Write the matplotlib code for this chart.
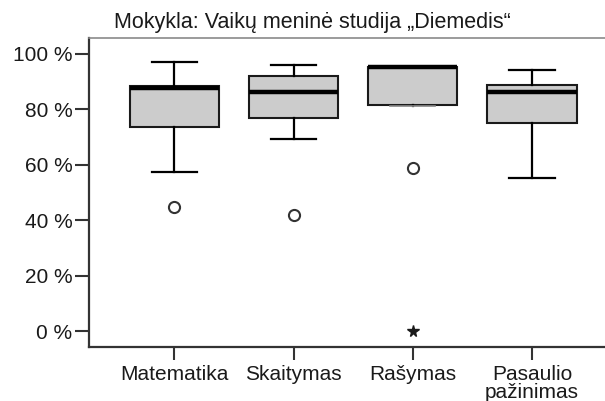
import matplotlib
matplotlib.use("Agg")
import matplotlib.pyplot as plt
from matplotlib.ticker import FuncFormatter

# Subject scores (%) for one school
subjects = ["Matematika", "Skaitymas", "Rašymas", "Pasaulio\npažinimas"]
whisker_low = [57.4, 69.3, 81.3, 55.3]
q1 = [73.6, 76.8, 81.6, 75.0]
medians = [87.6, 86.3, 95.1, 86.1]
q3 = [88.6, 92.1, 95.4, 88.8]
whisker_high = [97.1, 96.0, 95.4, 94.1]
outliers = [[44.9], [42.1], [58.8], []]
extremes = [[], [], [0.0], []]
y_ticks = [0, 20, 40, 60, 80, 100]
title = "Mokykla: Vaikų meninė studija „Diemedis“"

plt.rcParams["font.family"] = ["Liberation Sans", "DejaVu Sans"]
text_color = "#1a1a1a"

fig = plt.figure(figsize=(6.05, 4.01), dpi=100)
# axes runs off the right edge, so no right frame is visible
ax = fig.add_axes([89.3 / 605, 53.7 / 401, 1 - 89.3 / 605, (347.3 - 37.5) / 401])

positions = list(range(1, len(subjects) + 1))
stats = []
for i in range(len(subjects)):
    stats.append({"label": subjects[i], "whislo": whisker_low[i], "q1": q1[i],
                  "med": medians[i], "q3": q3[i], "whishi": whisker_high[i],
                  "fliers": outliers[i]})

parts = ax.bxp(stats, positions=positions, widths=0.75, capwidths=0.38, patch_artist=True,
               boxprops=dict(facecolor="#cccccc", edgecolor="#1a1a1a", linewidth=1.5),
               medianprops=dict(color="black", linewidth=3.2, solid_capstyle="butt"),
               whiskerprops=dict(color="black", linewidth=1.6),
               capprops=dict(color="black", linewidth=1.6),
               flierprops=dict(marker="o", markersize=8, markerfacecolor="none",
                               markeredgecolor="#333333", markeredgewidth=1.5))

# where the lower whisker sits right under the box, the cap shows up faint
for i in range(len(subjects)):
    if q1[i] - whisker_low[i] < 1:
        parts["caps"][2 * i].set_color("#888888")
        parts["caps"][2 * i].set_linewidth(1.2)

# extreme values get a star instead of a circle
for pos, vals in zip(positions, extremes):
    if vals:
        ax.plot([pos] * len(vals), vals, linestyle="none", marker="*",
                markersize=8.5, color="#1a1a1a", clip_on=False)

ax.set_xlim(0.287, 4.613)
ax.set_ylim(-5.7, 105.9)
ax.set_yticks(y_ticks)
ax.yaxis.set_major_formatter(FuncFormatter(lambda v, p: f"{v:.0f} %"))
ax.set_xticks(positions)
ax.set_xticklabels(subjects, linespacing=0.9)

ax.spines["right"].set_visible(False)
ax.spines["top"].set_color("#8a8a8a")
ax.spines["top"].set_linewidth(1.2)
ax.spines["left"].set_color("#333333")
ax.spines["left"].set_linewidth(1.6)
ax.spines["bottom"].set_color("#333333")
ax.spines["bottom"].set_linewidth(1.6)

ax.tick_params(axis="y", length=10, width=1.5, pad=2.2, labelsize=15,
               colors="#333333", labelcolor=text_color)
ax.tick_params(axis="x", length=9.5, width=1.5, pad=3.5, labelsize=15,
               colors="#333333", labelcolor=text_color)

fig.text(312 / 605, 1 - 28 / 401, title, ha="center", va="baseline",
         fontsize=15.5, color=text_color)

fig.savefig("out.png", dpi=100)
